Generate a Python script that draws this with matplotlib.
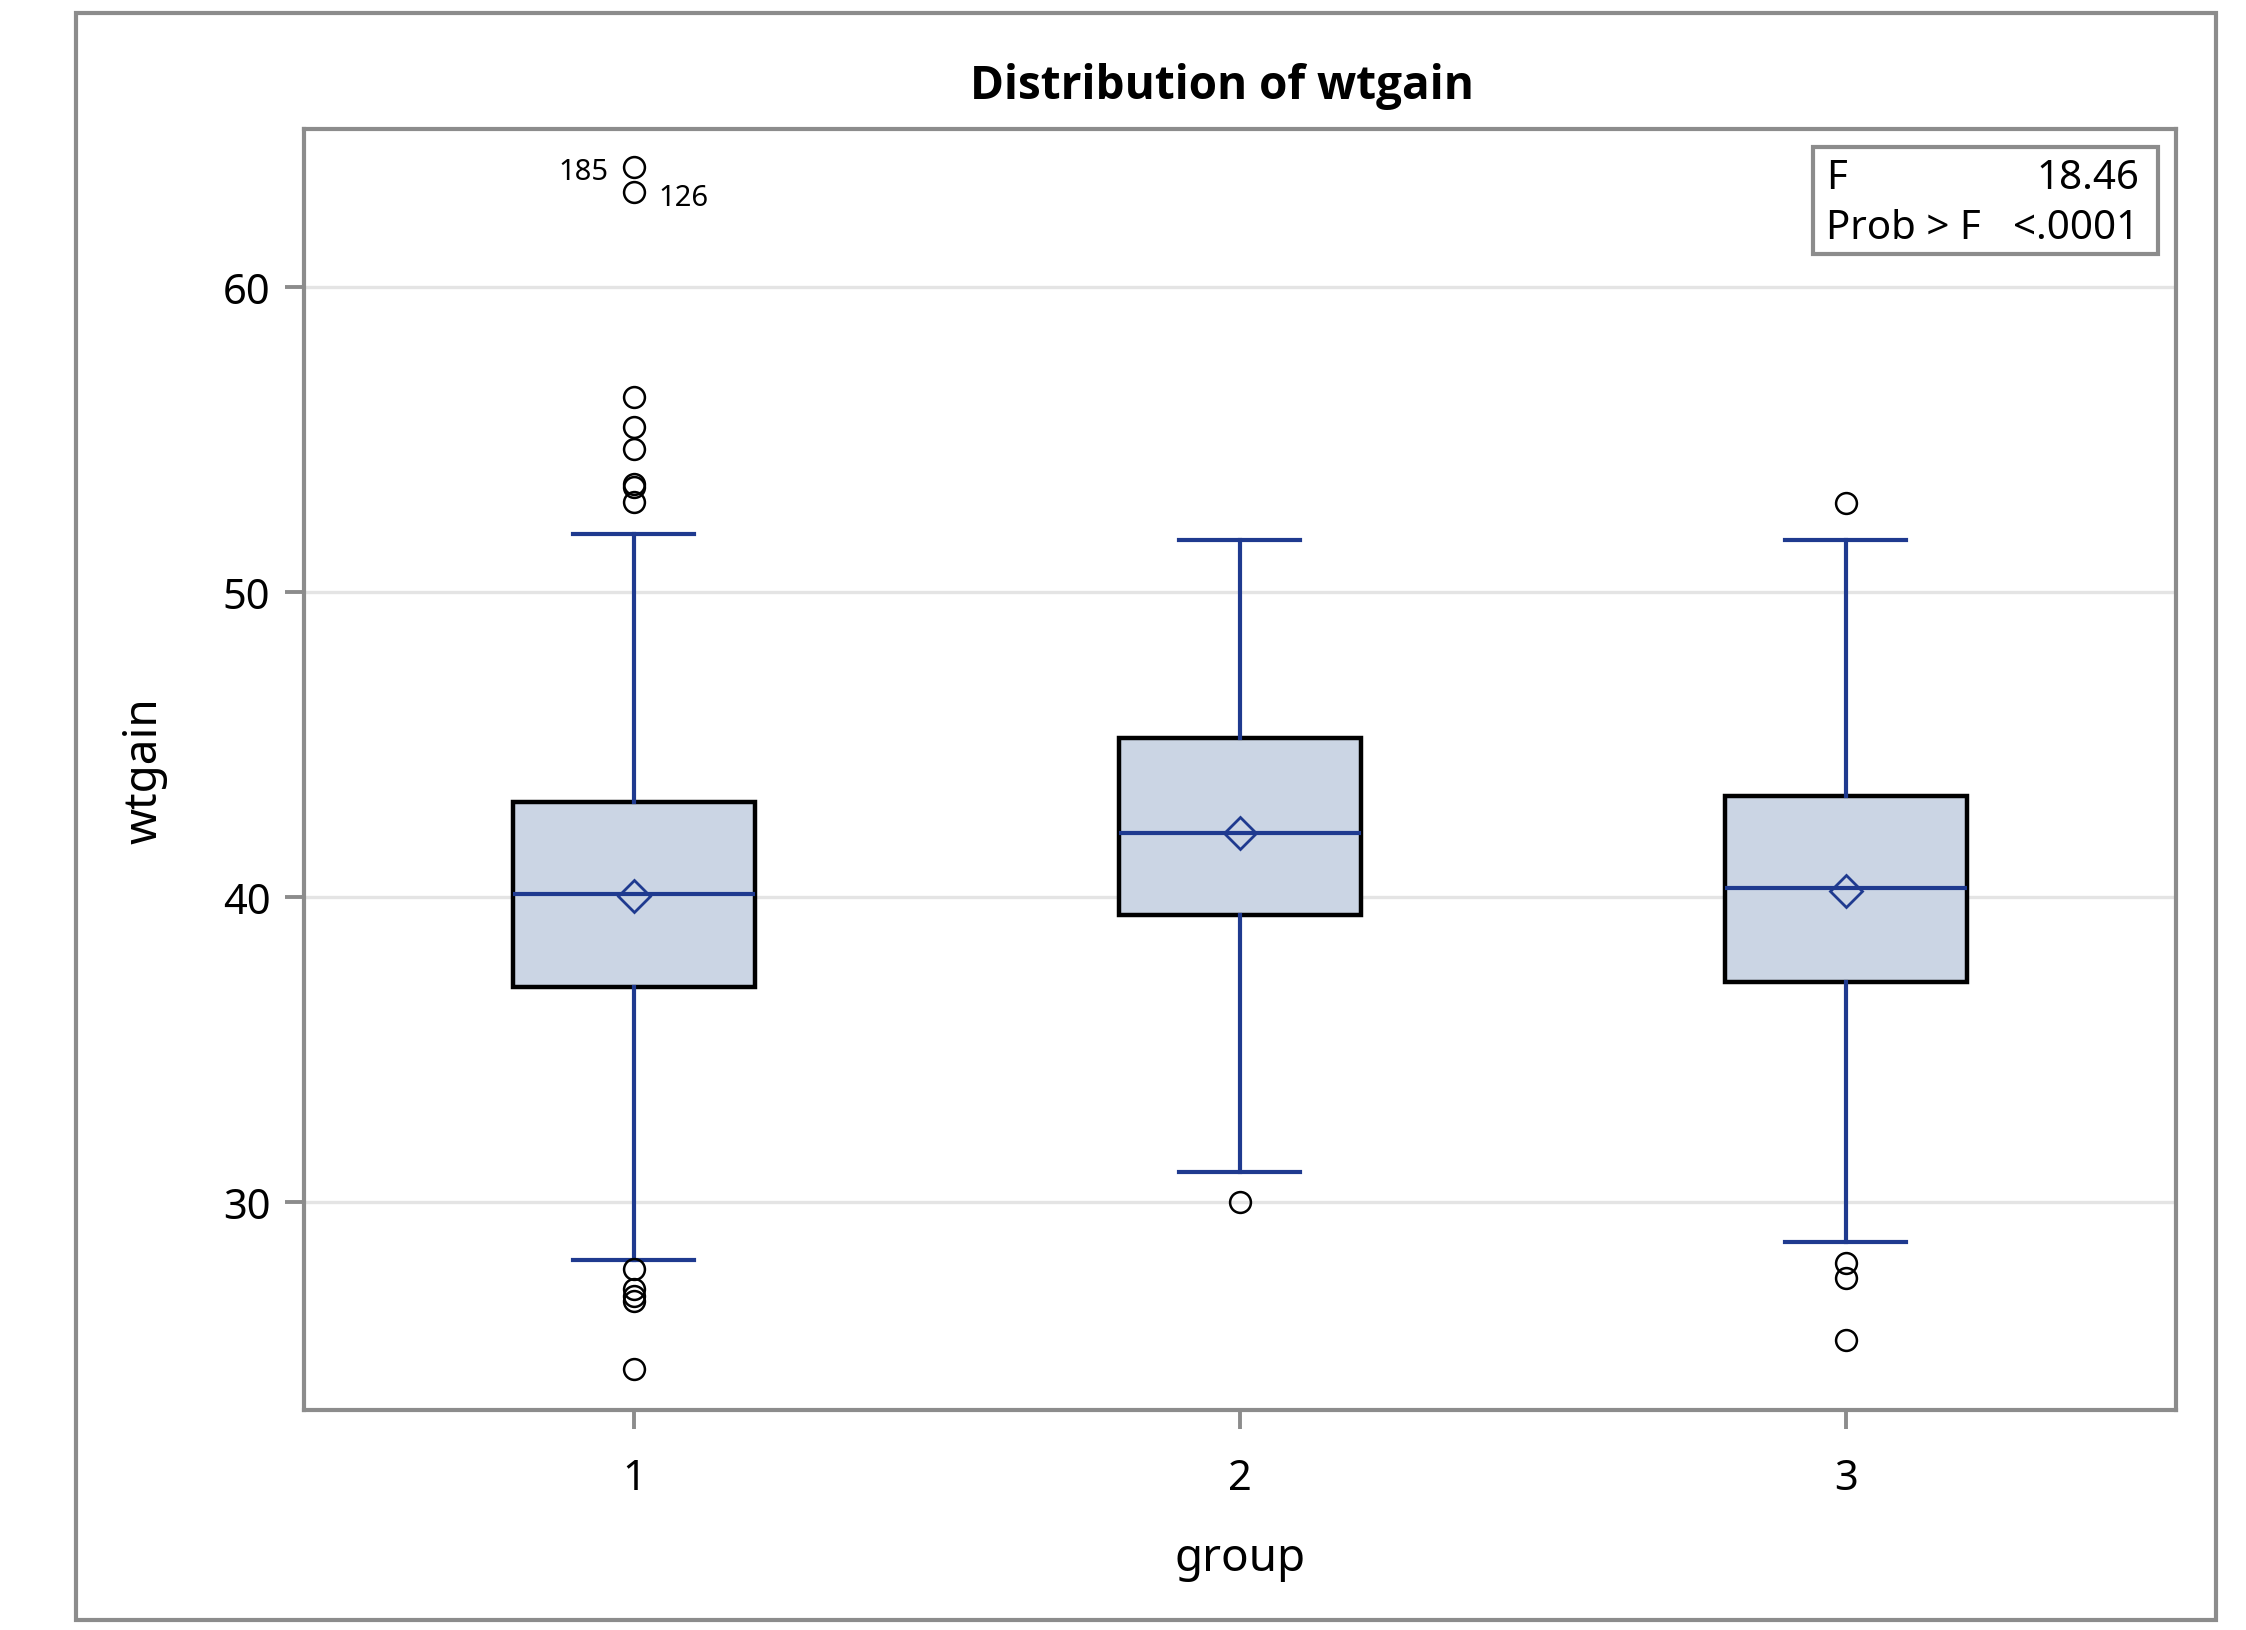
import matplotlib.pyplot as plt
import matplotlib as mpl
from matplotlib.patches import Rectangle

plt.rcParams['font.family'] = ['Noto Sans', 'DejaVu Sans']

# Box plot statistics, one entry per group
groups = [1, 2, 3]
q1 = [37.05, 39.4, 37.23]
med = [40.1, 42.1, 40.3]
q3 = [43.1, 45.2, 43.3]
whislo = [28.11, 30.99, 28.71]
whishi = [51.88, 51.69, 51.69]
means = [40.05, 42.1, 40.2]
fliers = [
    [63.92, 63.1, 56.38, 55.4, 54.69, 53.54, 53.44, 52.94,
     27.83, 27.17, 26.92, 26.76, 24.55],
    [30.0],
    [52.9, 28.02, 27.53, 25.5],
]
# labelled outliers: (group, value, text, side)
outlier_labels = [(1, 63.92, "185", "left"), (1, 63.1, "126", "right")]
f_value = "18.46"
p_value = "<.0001"

BLUE = "#1F3A8F"
FILL = "#CBD5E4"
GRAY = "#8C8C8C"

stats = []
for i in range(len(groups)):
    stats.append(dict(med=med[i], q1=q1[i], q3=q3[i], whislo=whislo[i],
                      whishi=whishi[i], mean=means[i], fliers=fliers[i]))

fig = plt.figure(figsize=(11.23, 8.155), dpi=200)
ax = fig.add_axes([0.1352, 0.1349, 0.8336, 0.7852])

# outer frame
fig.patches.append(Rectangle((0.0338, 0.0064), 0.9528, 0.9850, transform=fig.transFigure,
                             fill=False, edgecolor=GRAY, linewidth=1.5))

ax.bxp(stats, positions=groups, widths=0.4, patch_artist=True, showmeans=True,
       boxprops=dict(facecolor=FILL, edgecolor="black", linewidth=1.6),
       medianprops=dict(color=BLUE, linewidth=1.5),
       whiskerprops=dict(color=BLUE, linewidth=1.5),
       capprops=dict(color=BLUE, linewidth=1.5),
       capwidths=0.2,
       meanprops=dict(marker="D", markerfacecolor="none", markeredgecolor=BLUE,
                      markersize=8, markeredgewidth=1.0),
       flierprops=dict(marker="o", markerfacecolor="none", markeredgecolor="black",
                       markersize=7.5, markeredgewidth=0.9),
       zorder=3)

for g, v, txt, side in outlier_labels:
    if side == "left":
        ax.annotate(txt, (g, v), xytext=(-9, -1.5), textcoords="offset points",
                    ha="right", va="center", fontsize=10.5)
    else:
        ax.annotate(txt, (g, v), xytext=(9, -2), textcoords="offset points",
                    ha="left", va="center", fontsize=10.5)

ax.set_xlim(0.455, 3.545)
ax.set_ylim(23.2, 65.15)
ax.set_yticks([30, 40, 50, 60])
ax.set_xticks(groups)
ax.set_xticklabels([str(g) for g in groups])
ax.yaxis.grid(True, color="#E4E4E4", linewidth=1.2, zorder=0)
ax.set_axisbelow(True)

for s in ax.spines.values():
    s.set_color(GRAY)
    s.set_linewidth(1.5)
ax.tick_params(axis="both", length=7, width=1.4, color=GRAY, labelsize=15)
ax.tick_params(axis="x", pad=10)
ax.tick_params(axis="y", pad=5)

ax.set_ylabel("wtgain", fontsize=16.5, labelpad=20)
ax.set_xlabel("group", fontsize=16.5, labelpad=13)

fig.text(0.544, 0.947, "Distribution of wtgain", ha="center", va="center",
         fontsize=16.5, fontweight="bold", family=["Open Sans", "DejaVu Sans"])

# stats inset box
bx0, by0, bx1, by1 = 0.807, 0.8437, 0.9606, 0.9095
fig.patches.append(Rectangle((bx0, by0), bx1 - bx0, by1 - by0, transform=fig.transFigure,
                             fill=True, facecolor="white", edgecolor=GRAY, linewidth=1.5))
fig.text(bx0 + 0.006, by1 - 0.019, "F", ha="left", va="center", fontsize=14.5)
fig.text(bx1 - 0.008, by1 - 0.019, f_value, ha="right", va="center", fontsize=14.5)
fig.text(bx0 + 0.006, by0 + 0.016, "Prob > F", ha="left", va="center", fontsize=14.5)
fig.text(bx1 - 0.008, by0 + 0.016, p_value, ha="right", va="center", fontsize=14.5)

fig.savefig("out.png", dpi=200)
